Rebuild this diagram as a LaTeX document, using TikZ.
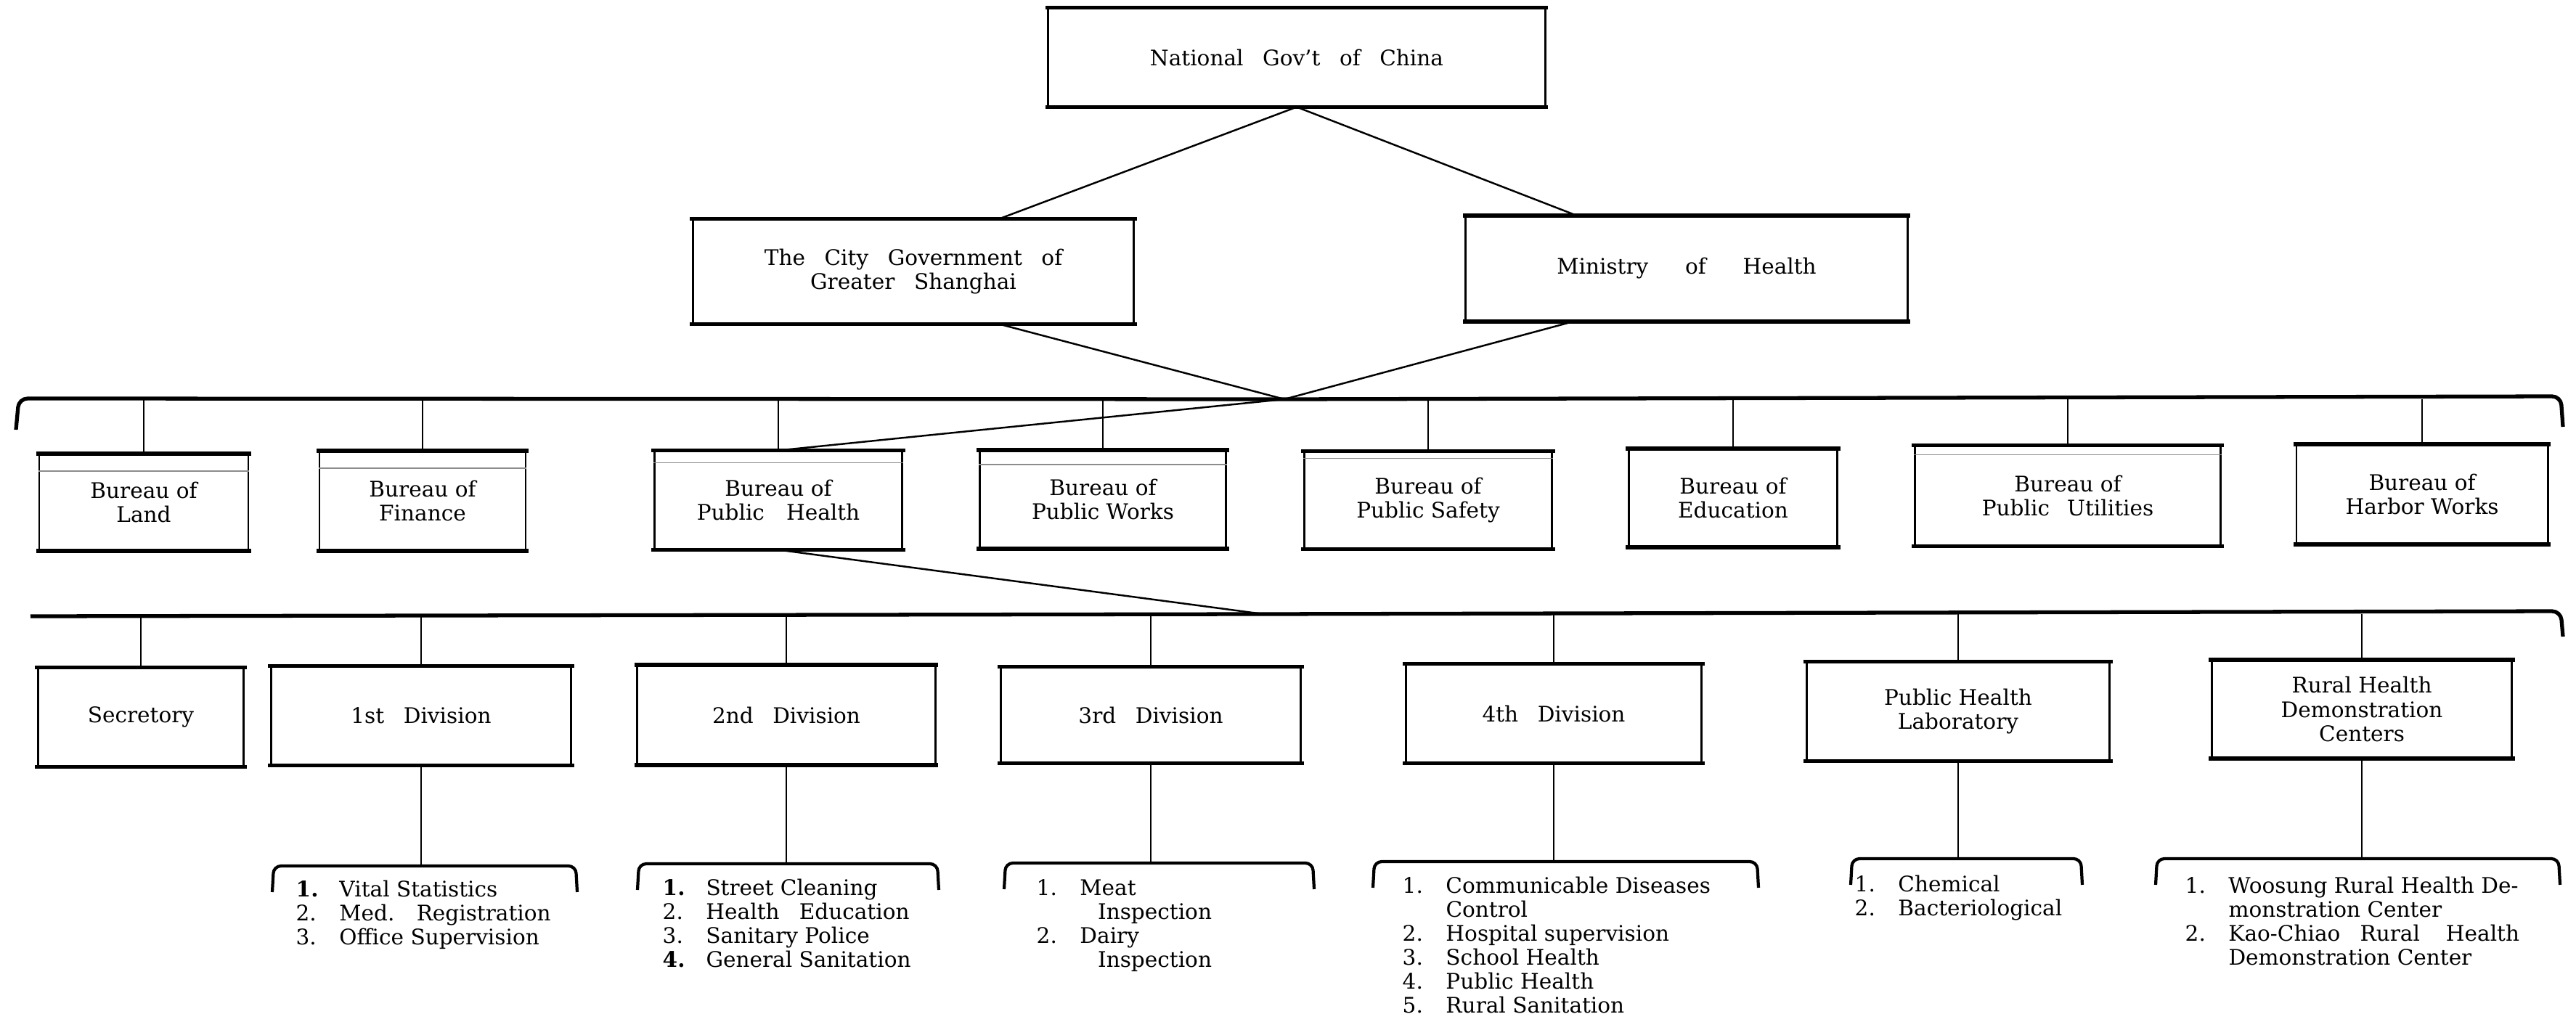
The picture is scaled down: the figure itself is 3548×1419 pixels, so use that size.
\documentclass[tikz,border=0pt]{standalone}
\usepackage{fontspec}
\setmainfont{DejaVu Serif}
\usetikzlibrary{positioning,calc}
\newcommand\wgap[1][0.9em]{\hspace{#1}}
\newenvironment{duties}{\begin{tabular}[t]{@{}p{8.2pt}@{\hspace{8.8pt}}l@{}}}{\end{tabular}}
\tikzset{
  unit/.style={draw, line width=0.8pt, align=center, inner sep=0pt, font=\fontsize{8.4}{9.4}\selectfont},
  rim/.style={line width=1.6pt, line cap=rect},
  link/.style={line width=0.7pt},
  bar/.style={line width=1.5pt, rounded corners=0.12cm},
  lst/.style={inner sep=0pt, anchor=base west, font=\fontsize{8.4}{9.4}\selectfont},
  ghost/.style={black!45, line width=0.35pt}
}
\begin{document}
\begin{tikzpicture}[x=0.01cm, y=-0.01cm]
  \useasboundingbox (0,0) rectangle (3548,1419);

  % top level
  \node[unit, minimum width=6.84cm, minimum height=1.34cm] (nat) at (1786,79) {National\wgap Gov't\wgap of\wgap China};
  \node[unit, minimum width=6.07cm, minimum height=1.42cm] (city) at (1258,374) {The\wgap City\wgap Government\wgap of\\Greater\wgap Shanghai};
  \node[unit, minimum width=6.08cm, minimum height=1.43cm] (min) at (2323,370) {Ministry\wgap[1.4em] of\wgap[1.4em] Health};

  % bureaus
  \node[unit, minimum width=2.88cm, minimum height=1.31cm] (land) at (198,692) {Bureau of\\Land};
  \node[unit, minimum width=2.84cm, minimum height=1.35cm] (fin) at (582,690) {Bureau of\\Finance};
  \node[unit, minimum width=3.41cm, minimum height=1.34cm] (ph) at (1072,689) {Bureau of\\Public\wgap[0.7em] Health};
  \node[unit, minimum width=3.39cm, minimum height=1.33cm] (pw) at (1519,688) {Bureau of\\Public Works};
  \node[unit, minimum width=3.41cm, minimum height=1.32cm] (ps) at (1967,689) {Bureau of\\Public Safety};
  \node[unit, minimum width=2.87cm, minimum height=1.33cm] (edu) at (2387,686) {Bureau of\\Education};
  \node[unit, minimum width=4.21cm, minimum height=1.36cm] (pu) at (2848,683) {Bureau of\\Public\wgap[0.5em] Utilities};
  \node[unit, minimum width=3.46cm, minimum height=1.35cm] (hw) at (3336,681) {Bureau of\\Harbor Works};

  % divisions
  \node[unit, minimum width=2.83cm, minimum height=1.34cm] (sec) at (194,988) {Secretory};
  \node[unit, minimum width=4.13cm, minimum height=1.34cm] (d1) at (580,986) {1st\wgap Division};
  \node[unit, minimum width=4.10cm, minimum height=1.35cm] (d2) at (1083,985) {2nd\wgap Division};
  \node[unit, minimum width=4.13cm, minimum height=1.30cm] (d3) at (1585,985) {3rd\wgap Division};
  \node[unit, minimum width=4.07cm, minimum height=1.34cm] (d4) at (2140,983) {4th\wgap Division};
  \node[unit, minimum width=4.17cm, minimum height=1.34cm] (lab) at (2697,980) {Public Health\\Laboratory};
  \node[unit, minimum width=4.13cm, minimum height=1.33cm] (rur) at (3253,977) {Rural Health\\Demonstration\\Centers};

  \foreach \n in {nat,city,min,land,fin,ph,pw,ps,edu,pu,hw,sec,d1,d2,d3,d4,lab,rur} {
    \draw[rim] (\n.north west) -- (\n.north east);
    \draw[rim] (\n.south west) -- (\n.south east);
  }
  \foreach \n/\d in {land/0.24cm, fin/0.24cm, ph/0.17cm, pw/0.2cm, ps/0.1cm, pu/0.13cm}
    \draw[ghost] ([yshift=-\d]\n.north west) -- ([yshift=-\d]\n.north east);

  % bars
  \coordinate (apex) at (1769,550);
  \coordinate (dj) at (1740,846);
  \draw[bar] (22,592) -- (26,549) -- (apex) -- (3527,546) -- (3530,588);
  \draw[bar] (42,849) -- (dj) -- (3527,842) -- (3530,877);

  \draw[link] (nat.south) -- ([xshift=1.18cm]city.north);
  \draw[link] (nat.south) -- ([xshift=-1.51cm]min.north);
  \draw[link] ([xshift=1.18cm]city.south) -- (apex);
  \draw[link] ([xshift=-1.56cm]min.south) -- (apex);
  \draw[link] (ph.north) -- (apex);
  \draw[link] (ph.south) -- (dj);

  \foreach \n in {land,fin,ph,pw,ps,edu,pu,hw}
    \draw[link] (\n.north) -- (\n.north |- apex);
  \foreach \n in {sec,d1,d2,d3,d4,lab,rur}
    \draw[link] (\n.north) -- (\n.north |- dj);

  % list brackets
  \foreach \n/\a/\b/\y in {d1/375/795/1193, d2/878/1293/1190, d3/1383/1810/1189, d4/1891/2422/1187, lab/2549/2868/1183, rur/2969/3526/1183} {
    \coordinate (\n top) at (\n.south |- 0,\y);
    \draw[link] (\n.south) -- (\n top);
    \draw[bar, line width=1.2pt, rounded corners=0.1cm] (\a,\y+36) -- (\a+2,\y) -- (\b-2,\y) -- (\b,\y+36);
  }

  \node[lst] (l1) at (407,1235) {\begin{duties}
    \textbf{1.} & Vital Statistics\\
    2. & Med.\wgap[0.6em] Registration\\
    3. & Office Supervision
  \end{duties}};
  \node[lst] (l2) at (912,1233) {\begin{duties}
    \textbf{1.} & Street Cleaning\\
    2. & Health\wgap[0.6em] Education\\
    3. & Sanitary Police\\
    \textbf{4.} & General Sanitation
  \end{duties}};
  \node[lst] (l3) at (1427,1233) {\begin{duties}
    1. & Meat\\
       & \hspace{7pt}Inspection\\
    2. & Dairy\\
       & \hspace{7pt}Inspection
  \end{duties}};
  \node[lst] (l4) at (1931,1230) {\begin{duties}
    1. & Communicable Diseases\\
       & Control\\
    2. & Hospital supervision\\
    3. & School Health\\
    4. & Public Health\\
    5. & Rural Sanitation
  \end{duties}};
  \node[lst] (l5) at (2554,1228) {\begin{duties}
    1. & Chemical\\
    2. & Bacteriological
  \end{duties}};
  \node[lst] (l6) at (3009,1230) {\begin{duties}
    1. & Woosung Rural Health De-\\
       & monstration Center\\
    2. & Kao-Chiao\wgap[0.6em] Rural\wgap[0.9em] Health\\
       & Demonstration Center
  \end{duties}};
\end{tikzpicture}
\end{document}
